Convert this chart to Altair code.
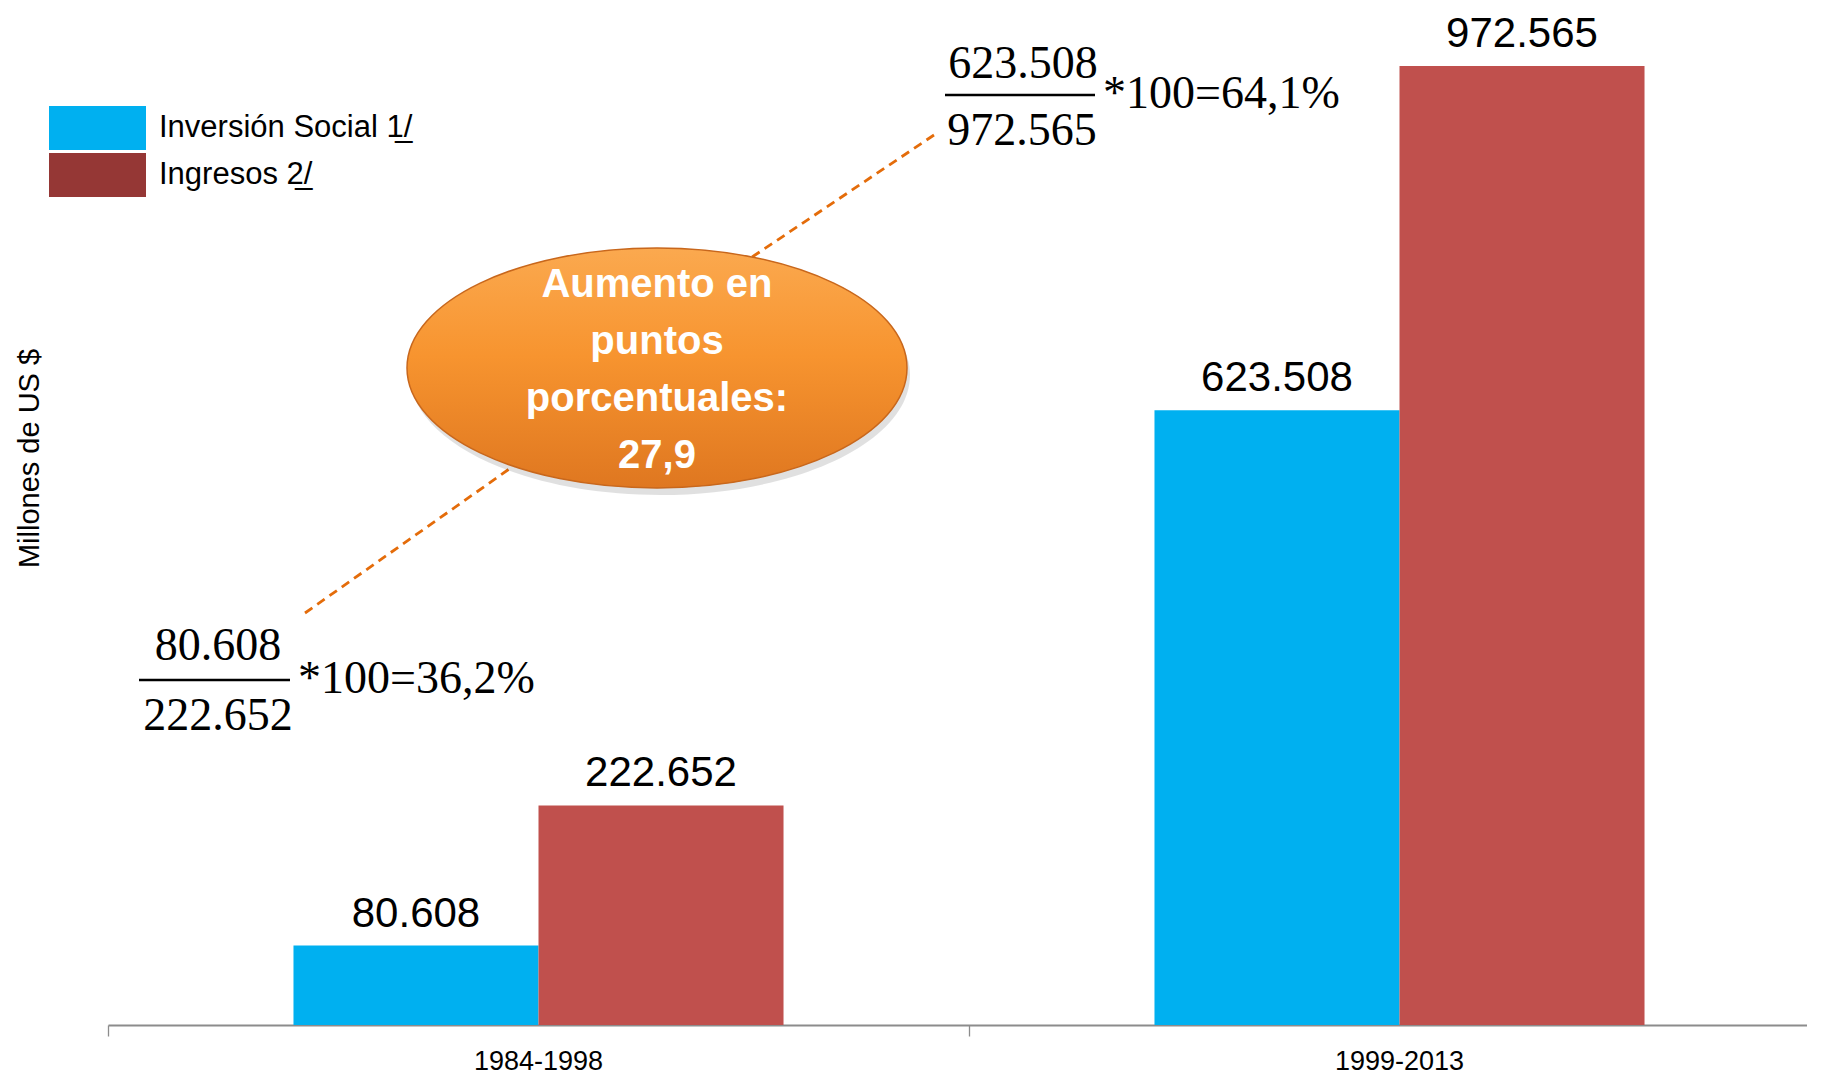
import altair as alt
import pandas as pd

# ---------------- data ----------------
PERIODS = ["1984-1998", "1999-2013"]
SERIES = ["Inversión Social 1/", "Ingresos 2/"]
SERIES_LEGEND = ["Inversión Social 1\u0332/", "Ingresos 2\u0332/"]
INVERSION = [80.608, 623.508]
INGRESOS = [222.652, 972.565]
BAR_COLORS = ["#00B0F0", "#C0504D"]
LEGEND_COLORS = ["#00B0F0", "#953735"]
Y_TITLE = "Millones de US $"
BUBBLE_LINES = ["Aumento en", "puntos", "porcentuales:", "27,9"]

SANS = "Liberation Sans, Arial, sans-serif"
SERIF = "Liberation Serif, Times New Roman, serif"

rows = []
for p, a, b in zip(PERIODS, INVERSION, INGRESOS):
    rows.append({"periodo": p, "serie": SERIES[0], "valor": a})
    rows.append({"periodo": p, "serie": SERIES[1], "valor": b})
df = pd.DataFrame(rows)
one = pd.DataFrame({"k": [0]})


def num(v):
    return f"{v:.3f}"


def pct(a, b):
    return ("*100=" + f"{100 * a / b:.1f}%").replace(".", ",")


# ---------------- encodings ----------------
x_enc = alt.X(
    "periodo:N", sort=PERIODS,
    scale=alt.Scale(paddingInner=0, paddingOuter=0, range=[0, 1722]),
    axis=alt.Axis(title=None, bandPosition=0, labelAngle=0, labelFont=SANS,
                  labelFontSize=27, labelColor="black", labelPadding=12,
                  tickSize=11, tickColor="#8C8C8C", tickWidth=1.3,
                  domainColor="#8C8C8C", domainWidth=2),
)
xo_enc = alt.XOffset("serie:N", sort=SERIES,
                     scale=alt.Scale(paddingOuter=0.757, paddingInner=0))
y_enc = alt.Y(
    "valor:Q", scale=alt.Scale(domain=[0, 1000], nice=False),
    axis=alt.Axis(title=Y_TITLE, labels=False, ticks=False, domain=False, grid=False,
                  titleFont=SANS, titleFontSize=29, titleFontWeight="normal",
                  titleColor="black", titleX=-79, titleY=419, titleAngle=270,
                  titleAlign="center", titleBaseline="middle"),
)

bars = alt.Chart(df).mark_bar().encode(
    x=x_enc, xOffset=xo_enc, y=y_enc,
    color=alt.Color("serie:N", scale=alt.Scale(domain=SERIES, range=BAR_COLORS), legend=None),
)
bar_labels = alt.Chart(df).mark_text(
    font=SANS, fontSize=42, baseline="alphabetic", dy=-19, color="black"
).encode(x=x_enc, xOffset=xo_enc, y=y_enc, text=alt.Text("valor:Q", format=".3f"))

# ---------------- annotations ----------------
DASH = dict(color="#E46C0A", strokeWidth=2.8, strokeDash=[9, 6])
line1 = alt.Chart(one).mark_rule(**DASH).encode(
    x=alt.value(197), y=alt.value(574), x2=alt.value(492), y2=alt.value(366))
line2 = alt.Chart(one).mark_rule(**DASH).encode(
    x=alt.value(826), y=alt.value(96), x2=alt.value(592), y2=alt.value(253))

ELLIPSE = "M-1,0A1,0.48,0,1,0,1,0A1,0.48,0,1,0,-1,0Z"
grad = {"gradient": "linear", "x1": 0, "y1": 0, "x2": 0, "y2": 1,
        "stops": [{"offset": 0, "color": "#FBA94F"},
                  {"offset": 0.45, "color": "#F7942F"},
                  {"offset": 1, "color": "#DF7720"}]}
shadow = alt.Chart(one).mark_point(
    shape=ELLIPSE, size=250000, filled=True, fill="#000000", opacity=0.12, strokeWidth=0
).encode(x=alt.value(552), y=alt.value(336))
ellipse = alt.Chart(one).mark_point(
    shape=ELLIPSE, size=250000, filled=True, fill=grad, stroke="#C8671C",
    strokeWidth=1.5, opacity=1
).encode(x=alt.value(549), y=alt.value(329))
bubble_text = alt.Chart(one).mark_text(
    font=SANS, fontWeight="bold", fontSize=40, color="white", lineBreak="\n",
    lineHeight=57, align="center", baseline="middle"
).encode(x=alt.value(549), y=alt.value(246), text=alt.value("\n".join(BUBBLE_LINES)))


def ftext(x, y, t, align="center"):
    return alt.Chart(one).mark_text(
        font=SERIF, fontSize=46, align=align, baseline="alphabetic", color="black"
    ).encode(x=alt.value(x), y=alt.value(y), text=alt.value(t))


def frule(x1, x2, y):
    return alt.Chart(one).mark_rule(color="black", strokeWidth=2.5).encode(
        x=alt.value(x1), x2=alt.value(x2), y=alt.value(y), y2=alt.value(y))


formulas = [
    ftext(915, 39, num(INVERSION[1])),
    frule(837, 987, 56),
    ftext(914, 106, num(INGRESOS[1])),
    ftext(995, 69, pct(INVERSION[1], INGRESOS[1]), align="left"),
    ftext(110, 621, num(INVERSION[0])),
    frule(31, 182, 641),
    ftext(110, 691, num(INGRESOS[0])),
    ftext(190, 654, pct(INVERSION[0], INGRESOS[0]), align="left"),
]

legend = []
for i, (lab, col) in enumerate(zip(SERIES_LEGEND, LEGEND_COLORS)):
    y0 = 67 + 47 * i
    legend.append(alt.Chart(one).mark_rect(color=col).encode(
        x=alt.value(-59), x2=alt.value(38), y=alt.value(y0), y2=alt.value(y0 + 44)))
    legend.append(alt.Chart(one).mark_text(
        font=SANS, fontSize=31, align="left", baseline="middle", color="black"
    ).encode(x=alt.value(51), y=alt.value(y0 + 22), text=alt.value(lab)))

chart = alt.layer(
    bars, bar_labels, line1, line2, shadow, ellipse, bubble_text, *formulas, *legend
).properties(
    width=1699, height=986,
    autosize=alt.AutoSizeParams(type="none"),
    padding={"left": 100, "top": 31, "right": 0, "bottom": 53},
    background="white",
).configure_view(stroke=None)

chart.save("out.html", embed_options={"renderer": "svg", "actions": False})
